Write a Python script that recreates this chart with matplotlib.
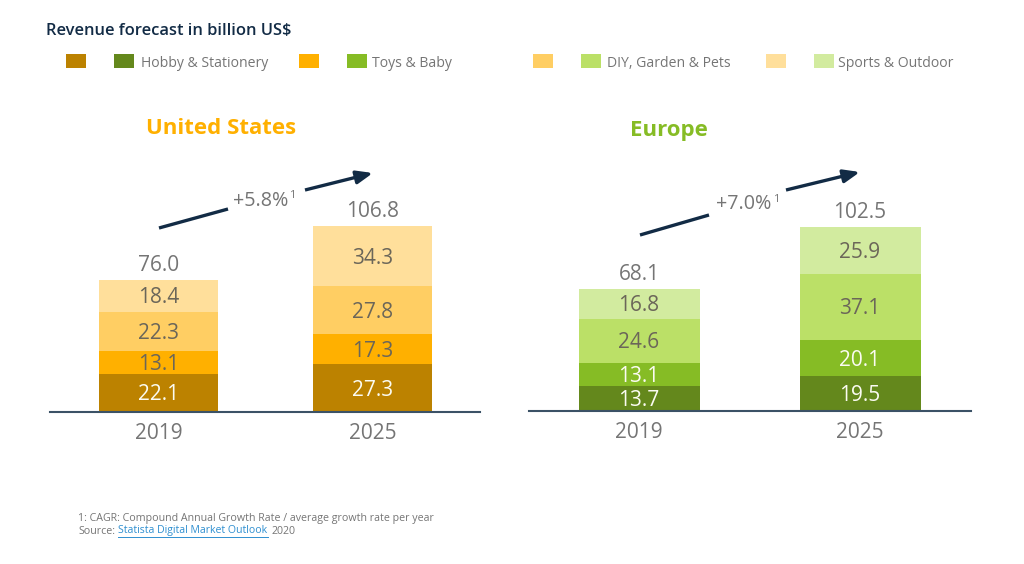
import matplotlib
matplotlib.use("Agg")
import matplotlib.pyplot as plt
from matplotlib.patches import Rectangle, FancyArrowPatch

# Data
years = ["2019", "2025"]
categories = ["Hobby & Stationery", "Toys & Baby", "DIY, Garden & Pets", "Sports & Outdoor"]

us_hobby = [22.1, 27.3]
us_toys = [13.1, 17.3]
us_diy = [22.3, 27.8]
us_sports = [18.4, 34.3]
us_totals = [76.0, 106.8]
us_growth = "+5.8%"

eu_hobby = [13.7, 19.5]
eu_toys = [13.1, 20.1]
eu_diy = [24.6, 37.1]
eu_sports = [16.8, 25.9]
eu_totals = [68.1, 102.5]
eu_growth = "+7.0%"

# Colours, dark to light
us_colors = ["#BC8200", "#FFB000", "#FFCE63", "#FFDF9B"]
eu_colors = ["#64881C", "#86BC25", "#BBE067", "#D2EB9F"]

W, H = 1024, 564
GREY = "#757575"
DARK = "#122B45"
LABEL_DARK = "#6b6659"
LABEL_LIGHT = "#FBFBF2"

plt.rcParams["font.family"] = ["Open Sans", "DejaVu Sans"]
fig = plt.figure(figsize=(W / 100, H / 100), dpi=100, facecolor="white")


# all the page furniture is placed in pixels of the reference
def px(x, y):
    return x / W, 1 - y / H


def page_text(x, y, s, **kw):
    kw.setdefault("va", "center")
    fx, fy = px(x, y)
    return fig.text(fx, fy, s, **kw)


def add_swatch(x0, x1, y0, y1, color):
    fig.add_artist(Rectangle((x0 / W, 1 - y1 / H), (x1 - x0) / W, (y1 - y0) / H,
                             transform=fig.transFigure, color=color, lw=0))


def draw_bars(box, xlim, ylim_top, width, series, colors, label_colors, totals):
    left, right, top, bottom = box
    ax = fig.add_axes([left / W, 1 - bottom / H, (right - left) / W, (bottom - top) / H])
    ax.patch.set_alpha(0)
    pos = [0, 1]
    base = [0, 0]
    for values, color, lc in zip(series, colors, label_colors):
        ax.bar(pos, values, width, bottom=base, color=color, lw=0)
        for p, b, v in zip(pos, base, values):
            ax.annotate(f"{v:.1f}", (p, b + v / 2), xytext=(0, -2), textcoords="offset pixels",
                        ha="center", va="center", fontsize=15, color=lc)
        base = [b + v for b, v in zip(base, values)]
    for p, b, t in zip(pos, base, totals):
        ax.annotate(f"{t:.1f}", (p, b), xytext=(0, 4), textcoords="offset pixels",
                    ha="center", va="bottom", fontsize=15, color=GREY)
    ax.set_xlim(*xlim)
    ax.set_ylim(0, ylim_top)
    ax.set_xticks(pos)
    ax.set_xticklabels(years, fontsize=15, color=GREY)
    ax.tick_params(axis="x", length=0, pad=8)
    ax.set_yticks([])
    for s in ["top", "left", "right"]:
        ax.spines[s].set_visible(False)
    ax.spines["bottom"].set_color("#3b5266")
    ax.spines["bottom"].set_linewidth(1.5)
    return ax


def arrow_part(x0, y0, x1, y1, head=False):
    style = "-|>,head_length=0.7,head_width=0.28" if head else "-"
    fig.add_artist(FancyArrowPatch(
        px(x0, y0), px(x1, y1), transform=fig.transFigure, arrowstyle=style,
        mutation_scale=14, color=DARK, lw=2.4, shrinkA=0, shrinkB=0, capstyle="butt"))


draw_bars((50, 480, 150, 412), (-0.507, 1.502), 150.4, 0.556,
          [us_hobby, us_toys, us_diy, us_sports], us_colors,
          [LABEL_LIGHT, LABEL_DARK, LABEL_DARK, LABEL_DARK], us_totals)
draw_bars((529, 971, 150, 411), (-0.498, 1.502), 145.6, 0.5475,
          [eu_hobby, eu_toys, eu_diy, eu_sports], eu_colors,
          [LABEL_LIGHT, LABEL_LIGHT, LABEL_DARK, LABEL_DARK], eu_totals)

# Title and legend
page_text(46, 31, "Revenue forecast in billion US$", fontsize=11.9, fontweight=600, color=DARK)
swatch_x = [(66, 114, 141), (299, 347, 372), (533, 581, 607), (766, 814, 838)]
for (a, b, tx), name, c1, c2 in zip(swatch_x, categories, us_colors, eu_colors):
    add_swatch(a, a + 20, 54, 68, c1)
    add_swatch(b, b + 20, 54, 68, c2)
    page_text(tx, 64, name, fontsize=10.1, color=GREY)

# Region headings
page_text(221, 129, "United States", fontsize=16, fontweight="bold", color="#FFB000", ha="center")
page_text(669, 130, "Europe", fontsize=16, fontweight="bold", color="#86BC25", ha="center")

# Growth arrows
arrow_part(159, 228, 228, 209)
arrow_part(305, 190, 373, 173, head=True)
page_text(233, 201, us_growth, fontsize=14.2, color=GREY)
page_text(289, 196, "1", fontsize=8, color=GREY)

arrow_part(640, 235, 709, 215)
arrow_part(786, 190, 860, 172, head=True)
page_text(716, 204, eu_growth, fontsize=14.2, color=GREY)
page_text(773, 199, "1", fontsize=8, color=GREY)

# Footnote
page_text(78, 518, "1: CAGR: Compound Annual Growth Rate / average growth rate per year", fontsize=7.7, color=GREY)
page_text(78, 531, "Source:", fontsize=7.7, color=GREY)
page_text(118, 531, "Statista Digital Market Outlook", fontsize=7.6, color="#2f8fd0")
page_text(272, 531, "2020", fontsize=7.7, color=GREY)
fig.add_artist(plt.Line2D([118 / W, 268 / W], [1 - 537 / H, 1 - 537 / H], color="#2f8fd0", lw=0.7))

fig.savefig("out.png", dpi=100)
